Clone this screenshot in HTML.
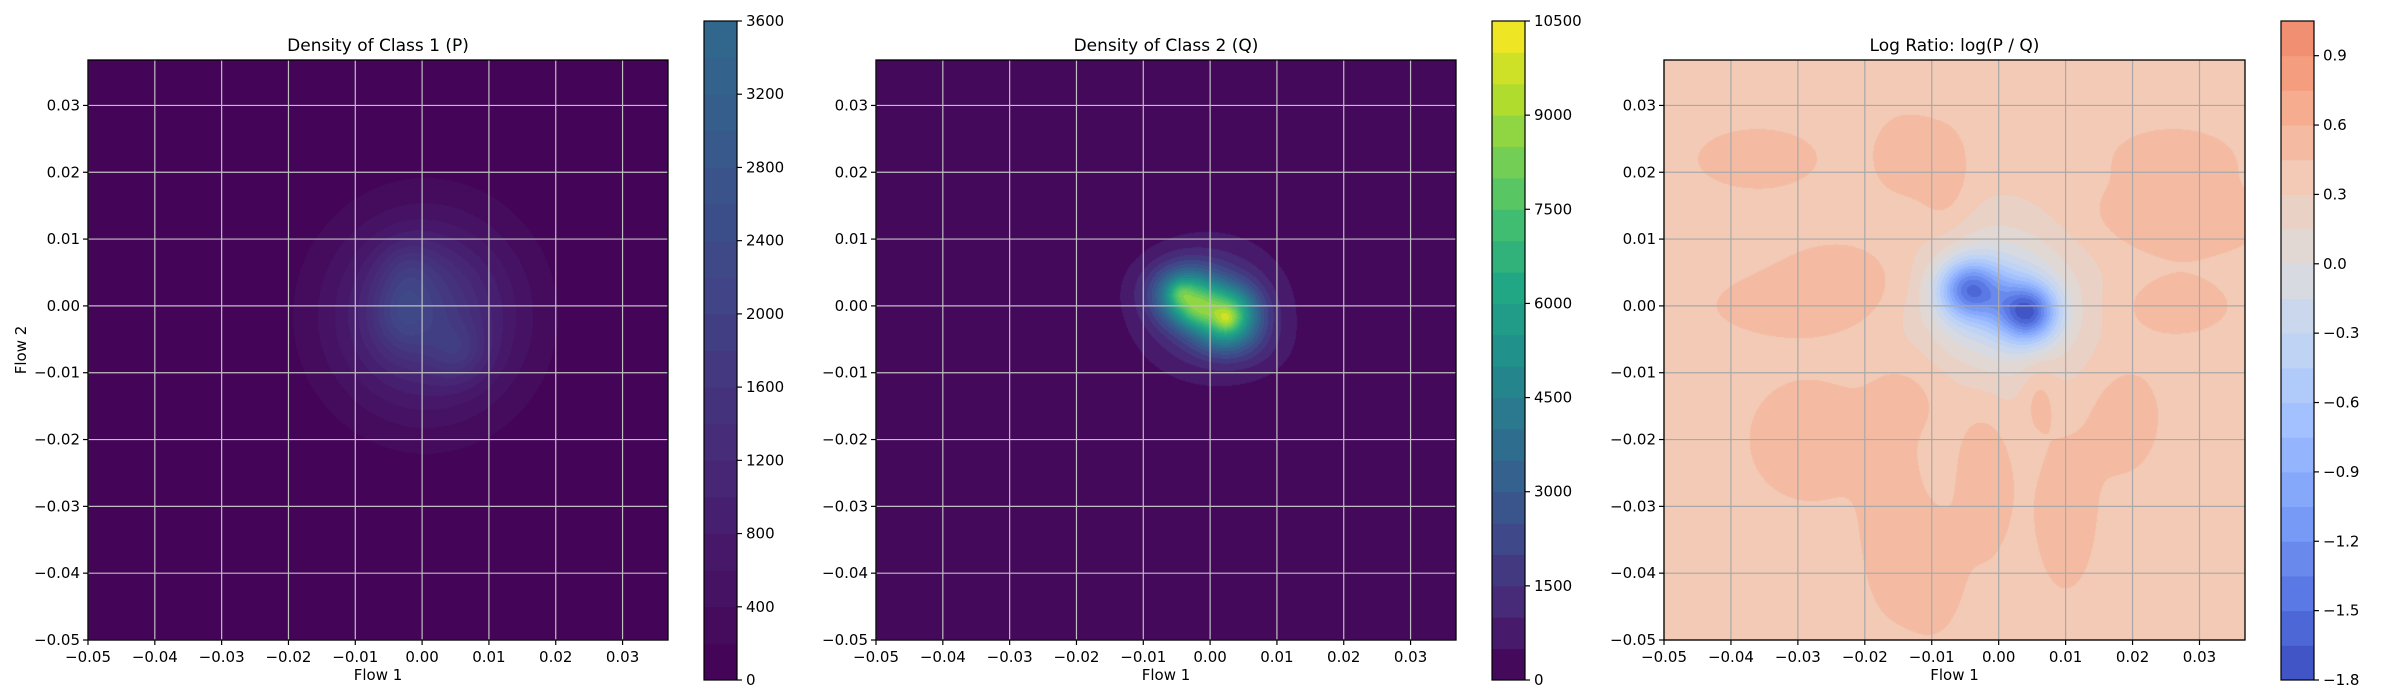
<!DOCTYPE html>
<html><head><meta charset="utf-8">
<style>
body{margin:0;background:#fff;width:2400px;height:700px;overflow:hidden;font-family:"Liberation Sans","DejaVu Sans",sans-serif;}
svg text{font-family:"DejaVu Sans","Liberation Sans",sans-serif;fill:#000;}
canvas{position:absolute;}
</style></head>
<body>
<div id="root" style="position:relative;width:2400px;height:700px;">
<canvas id="c0" width="580" height="580" style="left:88px;top:60px"></canvas>
<canvas id="c1" width="580" height="580" style="left:876px;top:60px"></canvas>
<canvas id="c2" width="581" height="580" style="left:1664px;top:60px"></canvas>
<svg id="ov" width="2400" height="700" style="position:absolute;left:0;top:0"></svg>
</div>
<script>
// ---- data ----
const xTicks = [-0.05,-0.04,-0.03,-0.02,-0.01,0.00,0.01,0.02,0.03];
const yTicks = [-0.05,-0.04,-0.03,-0.02,-0.01,0.00,0.01,0.02,0.03];
const axisMin = -0.05, axisMax = 0.0368;
const titles = ["Density of Class 1 (P)","Density of Class 2 (Q)","Log Ratio: log(P / Q)"];
// blob components: [x, y, sigmaX, sigmaY, amplitude]
const blobsP = [[0.0005,-0.0015,0.0098,0.0102,1550],[-0.003,-0.001,0.003,0.004,650],[0.0055,-0.007,0.003,0.003,550],[-0.002,0.006,0.003,0.003,350],[0.001,0.001,0.005,0.005,250]];
const blobsQ = [[0.0,-0.0005,0.0082,0.0075,1400],[-0.006,0.003,0.004,0.003,500],[0.006,-0.006,0.004,0.003,500],[0.0,0.0,0.005,0.0045,1300],
 [-0.0035,0.0015,0.0032,0.0028,4300],[0.003,-0.0012,0.003,0.0028,5000],[-0.002,-0.001,0.0022,0.002,1800],[0.0015,-0.005,0.003,0.002,1100],[0.0025,-0.002,0.0012,0.0012,1500],[-0.0045,0.002,0.0012,0.0012,1200]];
const ratioBase = 0.41;
const blobsR = [[0.0,0.0,0.0095,0.0095,-0.55],[-0.0045,0.0025,0.0032,0.003,-1.25],[0.0045,-0.001,0.003,0.003,-1.45],[0.0,0.001,0.0045,0.0045,-0.4],
 [-0.02,0.004,0.008,0.004,0.14],[-0.012,-0.012,0.005,0.005,0.15],[-0.002,-0.022,0.003,0.01,0.14],[-0.008,0.017,0.003,0.006,0.17],[0.024,0.013,0.01,0.004,0.14],[0.018,-0.016,0.004,0.006,0.13],[-0.028,-0.02,0.006,0.006,0.13],[0.026,0.022,0.006,0.003,0.12],[-0.036,0.022,0.006,0.003,0.12],[0.006,-0.013,0.002,0.004,0.22],[-0.016,-0.032,0.003,0.009,0.13],[0.01,-0.03,0.003,0.008,0.13],[-0.03,0.0,0.008,0.003,0.12],[-0.01,-0.04,0.003,0.006,0.12],[0.025,0.0,0.006,0.003,0.13],[-0.014,0.022,0.003,0.004,0.15]];
const levelsP = {min:0,max:3600,step:200,tickStep:400,vmax:10500};
const levelsQ = {min:0,max:10500,step:500,tickStep:1500,vmax:10500};
const levelsR = {min:-1.8,max:1.05,step:0.15,vmin:-1.8,vmax:1.8};
const ratioTicks = [-1.8,-1.5,-1.2,-0.9,-0.6,-0.3,0.0,0.3,0.6,0.9];

// ---- colormaps ----
const VIR=["#440154","#482475","#414487","#355f8d","#2a788e","#21918c","#22a884","#44bf70","#7ad151","#bddf26","#fde725"];
const CW=[[0,"#3b4cc0"],[0.1,"#5977e3"],[0.2,"#7b9ff9"],[0.3,"#9ebeff"],[0.4,"#c0d4f5"],[0.5,"#dddcdc"],[0.6,"#f2cbb7"],[0.7,"#f7a889"],[0.8,"#ee8468"],[0.9,"#d65244"],[1,"#b40426"]];
function hx(h){return [parseInt(h.substr(1,2),16),parseInt(h.substr(3,2),16),parseInt(h.substr(5,2),16)];}
function lerpStops(stops,t){t=Math.max(0,Math.min(1,t));for(let i=0;i<stops.length-1;i++){if(t<=stops[i+1][0]){const a=hx(stops[i][1]),b=hx(stops[i+1][1]);const f=(t-stops[i][0])/(stops[i+1][0]-stops[i][0]);return a.map((v,k)=>Math.round(v+(b[k]-v)*f));}}return hx(stops[stops.length-1][1]);}
const VS=VIR.map((c,i)=>[i/10,c]);
const viridis=t=>lerpStops(VS,t), coolwarm=t=>lerpStops(CW,t);
const rgb=a=>`rgb(${a[0]},${a[1]},${a[2]})`;

// ---- axes ----
const panels=[{left:88,w:580,cb:704},{left:876,w:580,cb:1492},{left:1664,w:581,cb:2281}];
const plotTop=60,H=580,cbTop=21,cbBot=680,cbW=33;
function field(blobs,base,x,y){let s=base;for(const b of blobs){const dx=(x-b[0])/b[2],dy=(y-b[1])/b[3];s+=b[4]*Math.exp(-0.5*(dx*dx+dy*dy));}return s;}
function render(id,blobs,base,lv,cmap,norm){
 const c=document.getElementById(id),ctx=c.getContext('2d'),W=c.width;
 const img=ctx.createImageData(W,H);
 for(let j=0;j<H;j++){const y=axisMax-(j+0.5)/H*(axisMax-axisMin);
  for(let i=0;i<W;i++){const x=axisMin+(i+0.5)/W*(axisMax-axisMin);
   let v=field(blobs,base,x,y);v=Math.max(lv.min,Math.min(lv.max-1e-9,v));
   const k=Math.floor((v-lv.min)/lv.step);const mid=lv.min+(k+0.5)*lv.step;
   const col=cmap(norm(mid));const p=(j*W+i)*4;img.data[p]=col[0];img.data[p+1]=col[1];img.data[p+2]=col[2];img.data[p+3]=255;}}
 ctx.putImageData(img,0,0);
}
const normD=lv=>v=>v/lv.vmax;
const normR=v=>(v-levelsR.vmin)/(levelsR.vmax-levelsR.vmin);
render('c0',blobsP,0,levelsP,viridis,normD(levelsP));
render('c1',blobsQ,0,levelsQ,viridis,normD(levelsQ));
render('c2',blobsR,ratioBase,levelsR,coolwarm,normR);

const NS="http://www.w3.org/2000/svg",ov=document.getElementById('ov');
function el(t,a,txt){const e=document.createElementNS(NS,t);for(const k in a)e.setAttribute(k,a[k]);if(txt!==undefined)e.textContent=txt;ov.appendChild(e);return e;}
const fmt=v=>(v<-1e-9?"\u2212":"")+Math.abs(v).toFixed(2);
panels.forEach((p,pi)=>{
 const sx=v=>p.left+(v-axisMin)/(axisMax-axisMin)*p.w;
 const sy=v=>plotTop+H-(v-axisMin)/(axisMax-axisMin)*H;
 const gcol=pi==2?"#a8a8a8":"#c0c0c0";
 xTicks.forEach(v=>{const x=sx(v);
  const g=el('line',{x1:x,x2:x,y1:plotTop,y2:plotTop+H,stroke:gcol,'stroke-width':1.2});
  
  el('line',{x1:x,x2:x,y1:plotTop+H,y2:plotTop+H+5,stroke:'#000','stroke-width':1.2});
  const t=el('text',{x:x,y:plotTop+H+22,'font-size':15,'text-anchor':'middle'},fmt(v));
  });
 yTicks.forEach(v=>{const y=sy(v);
  const g=el('line',{x1:p.left,x2:p.left+p.w,y1:y,y2:y,stroke:gcol,'stroke-width':1.2});
  
  el('line',{x1:p.left-5,x2:p.left,y1:y,y2:y,stroke:'#000','stroke-width':1.2});
  const t=el('text',{x:p.left-8,y:y+5,'font-size':15,'text-anchor':'end'},fmt(v));
  });
 const fr=el('rect',{x:p.left,y:plotTop,width:p.w,height:H,fill:'none',stroke:'#000','stroke-width':1.3});
 
 const tt=el('text',{x:p.left+p.w/2,y:51,'font-size':17,'text-anchor':'middle'},titles[pi]);
 
 const xl=el('text',{x:p.left+p.w/2,y:680,'font-size':15,'text-anchor':'middle'},"Flow 1");
 
 // colorbar
 const lv=[levelsP,levelsQ,levelsR][pi];
 const cmap=pi==2?coolwarm:viridis, norm=pi==2?normR:normD(lv);
 const cy=v=>cbBot-(v-lv.min)/(lv.max-lv.min)*(cbBot-cbTop);
 const nb=Math.round((lv.max-lv.min)/lv.step);
 for(let k=0;k<nb;k++){const a=lv.min+k*lv.step,b=a+lv.step;
  const r=el('rect',{x:p.cb,y:cy(b),width:cbW,height:cy(a)-cy(b)+0.5,fill:rgb(cmap(norm((a+b)/2)))});
  }
 const cf=el('rect',{x:p.cb,y:cbTop,width:cbW,height:cbBot-cbTop,fill:'none',stroke:'#000','stroke-width':1.2});
 
 const ticks=pi==2?ratioTicks:Array.from({length:Math.round((lv.max-lv.min)/lv.tickStep)+1},(_,i)=>lv.min+i*lv.tickStep);
 ticks.forEach(v=>{const y=cy(v);el('line',{x1:p.cb+cbW,x2:p.cb+cbW+5,y1:y,y2:y,stroke:'#000','stroke-width':1.2});
  const s=pi==2?((v<-1e-9?"\u2212":"")+Math.abs(v).toFixed(1)):String(v);
  const t=el('text',{x:p.cb+cbW+9,y:y+5,'font-size':15},s);
  });
});
const yl=el('text',{x:0,y:0,'font-size':15,'text-anchor':'middle',transform:'translate(26,350) rotate(-90)'},"Flow 2");

</script>
</body></html>
